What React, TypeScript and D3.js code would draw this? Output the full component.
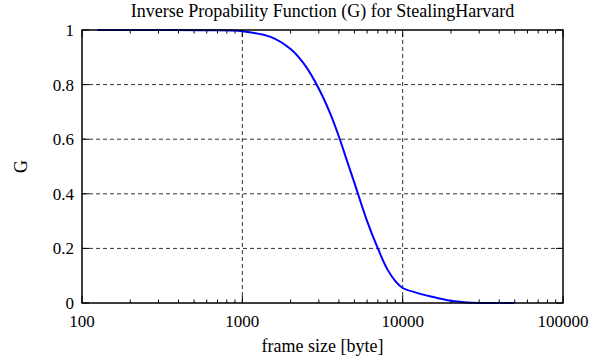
import React, { useEffect, useRef } from 'react';
import * as d3 from 'd3';

// G curve
const frameSizes = [125, 300, 600, 1000, 1500, 2000, 2500, 3000, 3500, 4000, 4500, 5000, 6000, 7000, 8000, 9000, 10000, 12000, 15000, 20000, 25000, 30000, 50000];
const gValues = [1, 1, 0.999, 0.995, 0.975, 0.93, 0.865, 0.785, 0.7, 0.61, 0.52, 0.44, 0.3, 0.2, 0.125, 0.08, 0.055, 0.039, 0.024, 0.008, 0.002, 0, 0];

const xTicks = [100, 1000, 10000, 100000];
const yTicks = [0, 0.2, 0.4, 0.6, 0.8, 1];
const gridX = [1000, 10000];
const gridY = [0.2, 0.4, 0.6, 0.8];

const title = 'Inverse Propability Function (G) for StealingHarvard';
const xLabel = 'frame size [byte]';
const yLabel = 'G';

export default function App() {
  const ref = useRef<SVGSVGElement>(null);

  useEffect(() => {
    const w = 604;
    const h = 363;
    const m = { left: 82, top: 30, right: 41, bottom: 60 };
    const svg = d3.select(ref.current);
    svg.selectAll('*').remove();

    const x = d3.scaleLog().domain([100, 100000]).range([m.left, w - m.right]);
    const y = d3.scaleLinear().domain([0, 1]).range([h - m.bottom, m.top]);

    svg.append('rect').attr('width', w).attr('height', h).attr('fill', '#fff');

    // dashed grid
    const grid = svg.append('g')
      .attr('stroke', '#333')
      .attr('stroke-width', 1)
      .attr('stroke-dasharray', '4,3');
    grid.selectAll('.gx')
      .data(gridX)
      .enter()
      .append('line')
      .attr('x1', d => x(d)).attr('x2', d => x(d))
      .attr('y1', y(0)).attr('y2', y(1));
    grid.selectAll('.gy')
      .data(gridY)
      .enter()
      .append('line')
      .attr('x1', x(100)).attr('x2', x(100000))
      .attr('y1', d => y(d)).attr('y2', d => y(d));

    // ticks pointing inward on all four sides
    const minor: number[] = [];
    [100, 1000, 10000].forEach(dec => {
      for (let k = 2; k <= 9; k++) minor.push(dec * k);
    });
    const ticks = svg.append('g').attr('stroke', '#000').attr('stroke-width', 1);
    [y(0), y(1)].forEach(yy => {
      const dir = yy === y(0) ? -1 : 1;
      ticks.selectAll(null)
        .data(minor)
        .enter()
        .append('line')
        .attr('x1', d => x(d)).attr('x2', d => x(d))
        .attr('y1', yy).attr('y2', yy + dir * 3.5);
      ticks.selectAll(null)
        .data(xTicks)
        .enter()
        .append('line')
        .attr('x1', d => x(d)).attr('x2', d => x(d))
        .attr('y1', yy).attr('y2', yy + dir * 7);
    });
    [x(100), x(100000)].forEach(xx => {
      const dir = xx === x(100) ? 1 : -1;
      ticks.selectAll(null)
        .data(yTicks)
        .enter()
        .append('line')
        .attr('x1', xx).attr('x2', xx + dir * 7)
        .attr('y1', d => y(d)).attr('y2', d => y(d));
    });

    // the curve
    const line = d3.line<number>()
      .x((d, i) => x(frameSizes[i]))
      .y(d => y(d))
      .curve(d3.curveCatmullRom.alpha(0.5));
    svg.append('path')
      .datum(gValues)
      .attr('d', line)
      .attr('fill', 'none')
      .attr('stroke', '#0000ff')
      .attr('stroke-width', 2);

    // frame
    svg.append('rect')
      .attr('x', x(100))
      .attr('y', y(1))
      .attr('width', x(100000) - x(100))
      .attr('height', y(0) - y(1))
      .attr('fill', 'none')
      .attr('stroke', '#000')
      .attr('stroke-width', 1.5);

    // labels
    const text = svg.append('g')
      .attr('font-family', 'Liberation Serif, Times New Roman, serif')
      .attr('font-size', 17)
      .attr('fill', '#000');
    text.selectAll(null)
      .data(xTicks)
      .enter()
      .append('text')
      .attr('x', d => x(d))
      .attr('y', y(0) + 24)
      .attr('text-anchor', 'middle')
      .text(d => String(d));
    text.selectAll(null)
      .data(yTicks)
      .enter()
      .append('text')
      .attr('x', m.left - 8)
      .attr('y', d => y(d))
      .attr('dy', '0.35em')
      .attr('text-anchor', 'end')
      .text(d => d3.format('')(d));
    text.append('text')
      .attr('x', (x(100) + x(100000)) / 2)
      .attr('y', 352)
      .attr('font-size', 18)
      .attr('text-anchor', 'middle')
      .text(xLabel);
    text.append('text')
      .attr('transform', `translate(27,${(y(0) + y(1)) / 2}) rotate(-90)`)
      .attr('font-size', 18)
      .attr('text-anchor', 'middle')
      .text(yLabel);
    text.append('text')
      .attr('x', (x(100) + x(100000)) / 2)
      .attr('y', 17)
      .attr('font-size', 18)
      .attr('text-anchor', 'middle')
      .text(title);
  }, []);

  return (
    <svg ref={ref} width={604} height={363} style={{ position: 'absolute', left: 0, top: 0 }} />
  );
}
